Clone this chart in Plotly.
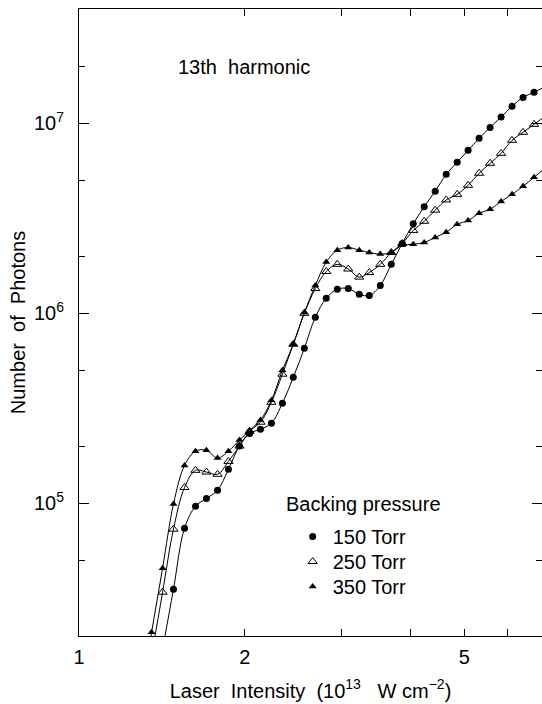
import numpy as np
import plotly.graph_objects as go

# ---- data ----
intensity = [1.354, 1.418, 1.484, 1.554, 1.627, 1.703, 1.784, 1.867, 1.955, 2.039,
             2.134, 2.234, 2.339, 2.448, 2.564, 2.684, 2.810, 2.942, 3.080, 3.225,
             3.363, 3.521, 3.686, 3.859, 4.041, 4.230, 4.429, 4.637, 4.855, 5.082,
             5.321, 5.571, 5.833, 6.106, 6.393, 6.693]

torr150_x = intensity[2:]
torr150_y = [3.53e4, 7.39e4, 9.64e4, 1.06e5, 1.17e5, 1.51e5, 2.0e5, 2.33e5, 2.45e5, 2.64e5,
             3.36e5, 4.60e5, 6.54e5, 9.53e5, 1.20e6, 1.34e6, 1.35e6, 1.26e6, 1.24e6, 1.40e6,
             1.81e6, 2.33e6, 2.96e6, 3.64e6, 4.39e6, 5.39e6, 6.24e6, 7.21e6, 8.34e6, 9.52e6,
             1.08e7, 1.23e7, 1.37e7, 1.46e7]

torr250_x = intensity[1:]
torr250_y = [3.40e4, 7.3e4, 1.21e5, 1.49e5, 1.46e5, 1.42e5, 1.66e5, 2.0e5, 2.39e5, 2.67e5,
             3.40e5, 4.78e5, 6.87e5, 1.0e6, 1.35e6, 1.66e6, 1.81e6, 1.71e6, 1.55e6, 1.64e6,
             1.81e6, 2.09e6, 2.33e6, 2.73e6, 3.05e6, 3.49e6, 3.95e6, 4.23e6, 4.72e6, 5.46e6,
             6.16e6, 6.95e6, 8.14e6, 8.97e6, 9.88e6]

torr350_x = intensity
torr350_y = [2.09e4, 4.55e4, 9.9e4, 1.58e5, 1.88e5, 1.90e5, 1.73e5, 1.88e5, 2.15e5, 2.42e5,
             2.74e5, 3.48e5, 5.01e5, 6.87e5, 1.01e6, 1.40e6, 1.86e6, 2.15e6, 2.22e6, 2.15e6,
             2.09e6, 2.05e6, 2.09e6, 2.28e6, 2.31e6, 2.36e6, 2.51e6, 2.67e6, 2.94e6, 3.08e6,
             3.36e6, 3.53e6, 3.88e6, 4.23e6, 4.66e6, 5.20e6]

series_names = ["150 Torr", "250 Torr", "350 Torr"]
legend_title = "Backing pressure"
x_tick_vals = [1, 2, 5]
x_tick_text = ["1", "2", "5"]
x_minor_vals = [3, 4, 6]
y_tick_vals = [1e5, 1e6, 1e7]
y_tick_text = ["10<sup>5</sup>", "10<sup>6</sup>", "10<sup>7</sup>"]
y_minor_vals = [5e4, 2e5, 5e5, 2e6, 5e6, 2e7]

FONT = "Liberation Sans, Arial, sans-serif"
FS = 20


def extended(xs, ys):
    """Continue the fitted curve one step past each end (log-log), so it runs to the frame."""
    lx, ly = np.log10(xs), np.log10(ys)
    lx0 = lx[0] - (lx[1] - lx[0]); ly0 = ly[0] - (ly[1] - ly[0])
    lxn = lx[-1] + (lx[-1] - lx[-2]); lyn = ly[-1] + (ly[-1] - ly[-2])
    ex = np.concatenate([[lx0], lx, [lxn]])
    ey = np.concatenate([[ly0], ly, [lyn]])
    return 10 ** ex, 10 ** ey


styles = [
    dict(symbol="circle", size=7, color="black", line=dict(width=0)),
    dict(symbol="triangle-up-open", size=8, color="black", line=dict(width=1)),
    dict(symbol="triangle-up", size=7, color="black", line=dict(width=0)),
]
legend_ids = ["legend", "legend2", "legend3"]

fig = go.Figure()
for name, xs, ys, st, lg in zip(series_names,
                                [torr150_x, torr250_x, torr350_x],
                                [torr150_y, torr250_y, torr350_y], styles, legend_ids):
    ex, ey = extended(xs, ys)
    fig.add_trace(go.Scatter(x=ex, y=ey, mode="lines", line=dict(color="black", width=1,
                             shape="spline", smoothing=1.0), showlegend=False,
                             hoverinfo="skip"))
    fig.add_trace(go.Scatter(x=xs, y=ys, mode="markers", marker=st, showlegend=False,
                             cliponaxis=False, name=name))
    # legend entry (marker only)
    fig.add_trace(go.Scatter(x=[None], y=[None], mode="markers", marker=st, name=name,
                             showlegend=True, legend=lg))

axis_common = dict(showline=True, linecolor="black", linewidth=1, mirror="allticks",
                   ticks="inside", showgrid=False, zeroline=False,
                   tickfont=dict(family=FONT, size=FS, color="black"), automargin=False)


def legend_box(ypaper):
    return dict(x=0.4615, y=ypaper, xanchor="left", yanchor="top",
                bgcolor="rgba(0,0,0,0)", borderwidth=0,
                font=dict(family=FONT, size=FS), itemwidth=30)


fig.update_layout(
    width=542, height=704,
    margin=dict(l=79, r=0, t=9, b=68),
    paper_bgcolor="white", plot_bgcolor="white",
    font=dict(family=FONT, size=FS, color="black"),
    xaxis=dict(type="log", range=[0, np.log10(6.92)],
               tickmode="array", tickvals=x_tick_vals, ticktext=x_tick_text,
               ticklen=7, tickcolor="black", ticklabelstandoff=3,
               minor=dict(tickmode="array", tickvals=x_minor_vals, ticks="inside",
                          ticklen=7, tickcolor="black"),
               title=dict(text="Laser\u00a0 Intensity\u00a0 (10<sup>13</sup>\u00a0\u00a0 W\u00a0cm<sup>\u22122</sup>)",
                          font=dict(family=FONT, size=FS), standoff=16),
               **axis_common),
    yaxis=dict(type="log", range=[np.log10(2e4), np.log10(4e7)],
               tickmode="array", tickvals=y_tick_vals, ticktext=y_tick_text,
               ticklen=10, tickcolor="black", ticklabelstandoff=10,
               minor=dict(tickmode="array", tickvals=y_minor_vals, ticks="inside",
                          ticklen=6, tickcolor="black"),
               title=dict(text="Number\u00a0 of\u00a0 Photons",
                          font=dict(family=FONT, size=FS), standoff=2),
               **axis_common),
    legend=legend_box(0.1898),
    legend2=legend_box(0.1499),
    legend3=legend_box(0.1100),
    annotations=[
        dict(text="13th\u00a0 harmonic", xref="paper", yref="paper",
             x=0.209, y=0.9075, xanchor="left", yanchor="middle",
             showarrow=False, font=dict(family=FONT, size=FS)),
        dict(text=legend_title, xref="paper", yref="paper",
             x=0.443, y=0.211, xanchor="left", yanchor="middle",
             showarrow=False, font=dict(family=FONT, size=FS)),
    ],
)

fig.write_html("out.html")
